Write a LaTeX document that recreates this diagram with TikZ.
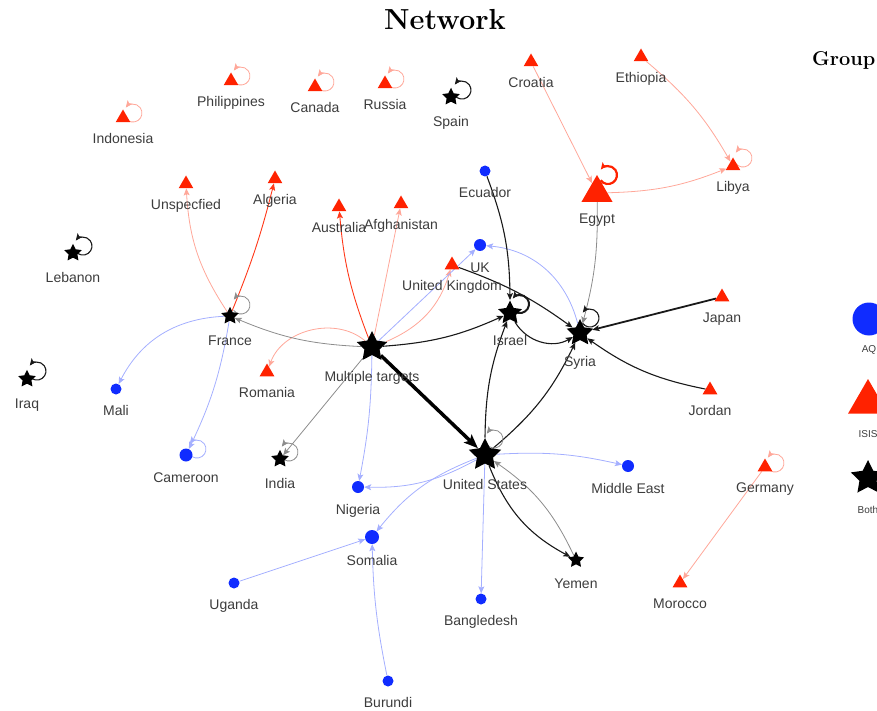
\documentclass[tikz,border=0pt]{standalone}
\usepackage{fontspec}
\usetikzlibrary{shapes.geometric,arrows.meta,backgrounds}
\newfontfamily\lblfont{Liberation Sans}
\definecolor{aqblue}{RGB}{16,44,255}
\definecolor{isisred}{RGB}{255,34,0}
\definecolor{lblgray}{RGB}{60,60,60}
\tikzset{
  aqdot/.style={circle,fill=aqblue,inner sep=0pt,minimum size=11pt},
  isistri/.style={regular polygon,regular polygon sides=3,fill=isisred,inner sep=0pt,minimum size=17pt},
  bothstar/.style={star,star points=5,star point ratio=2.0,fill=black,inner sep=0pt,minimum size=18.5pt},
  aq/.style={aqdot,label={[label distance=11pt]below:#1}},
  isis/.style={isistri,label={[label distance=11pt]below:#1}},
  both/.style={bothstar,label={[label distance=14pt]below:#1}},
  bigboth/.style={bothstar,label={[label distance=16pt]below:#1}},
  every label/.style={font=\lblfont\fontsize{14}{16}\selectfont,text=lblgray,inner sep=0pt,text height=10pt,text depth=3pt},
  keylbl/.style={font=\lblfont\fontsize{10}{12}\selectfont,text height=7.5pt,text depth=2pt},
  tip/.style={-{Stealth[length=7pt,width=6pt,inset=1.5pt]}},
  redln/.style={tip,draw=isisred!40,line width=0.8pt},
  reddk/.style={tip,draw=isisred!90,line width=0.9pt},
  blueln/.style={tip,draw=aqblue!38,line width=0.8pt},
  blackln/.style={tip,draw=black!90,line width=1.1pt},
  grayln/.style={tip,draw=black!45,line width=0.8pt},
  selfloop/.style={to path={([shift={(#1)},shift={(-7.4,-5.2)}]\tikztostart.center) arc[start angle=215,end angle=503,radius=9]}},
  selfloop/.default={10,5}
}

\begin{document}
\begin{tikzpicture}[x=1pt,y=1pt]
  \useasboundingbox (0,0) rectangle (877,-711);
  \clip (0,0) rectangle (877,-711);
  \node[inner sep=0pt,anchor=base,font=\bfseries\fontsize{29}{32}\selectfont] (title) at (445,-30) {Network};
  \node[inner sep=0pt,anchor=base west,font=\bfseries\fontsize{20}{24}\selectfont] (grouphead) at (812,-66) {Group};

  \node[isis=Indonesia] (indonesia) at (123,-118) {};
  \node[isis=Philippines] (philippines) at (231,-81) {};
  \node[isis=Canada] (canada) at (315,-87) {};
  \node[isis=Russia] (russia) at (385,-84) {};
  \node[both=Spain] (spain) at (451,-97) {};
  \node[isis=Croatia] (croatia) at (531,-62) {};
  \node[isis=Ethiopia] (ethiopia) at (641,-57) {};
  \node[isis=Egypt,minimum size=36pt] (egypt) at (597,-193) {};
  \node[isis=Libya] (libya) at (733,-166) {};
  \node[isis=Unspecfied] (unspec) at (186,-184) {};
  \node[isis=Algeria] (algeria) at (275,-179) {};
  \node[isis=Australia] (australia) at (339,-207) {};
  \node[isis=Afghanistan] (afghan) at (401,-204) {};
  \node[aq=Ecuador] (ecuador) at (485,-171) {};
  \node[aq=UK,minimum size=12pt] (uk) at (480,-245) {};
  \node[isis=United Kingdom] (unitedk) at (452,-265) {};
  \node[both=Lebanon] (lebanon) at (73,-253) {};
  \node[both=France] (france) at (230,-316) {};
  \node[bigboth=Multiple targets,minimum size=32pt] (multi) at (372,-347) {};
  \node[bigboth=Israel,minimum size=25pt,label distance=15pt] (israel) at (510,-313) {};
  \node[bigboth=Syria,minimum size=28pt] (syria) at (580,-333) {};
  \node[isis=Japan] (japan) at (722,-297) {};
  \node[isis=Jordan] (jordan) at (710,-390) {};
  \node[both=Iraq] (iraq) at (27,-379) {};
  \node[aq=Mali] (mali) at (116,-389) {};
  \node[isis=Romania] (romania) at (267,-372) {};
  \node[aq=Cameroon,minimum size=13pt] (cameroon) at (186,-455) {};
  \node[both=India] (india) at (280,-459) {};
  \node[bigboth=United States,minimum size=34pt] (us) at (485,-455) {};
  \node[aq=Nigeria,minimum size=12pt] (nigeria) at (358,-487) {};
  \node[aq=Middle East,minimum size=12pt] (mideast) at (628,-466) {};
  \node[isis=Germany] (germany) at (765,-467) {};
  \node[aq=Somalia,minimum size=14pt] (somalia) at (372,-537) {};
  \node[both=Yemen,minimum size=17pt] (yemen) at (576,-560) {};
  \node[aq=Uganda] (uganda) at (234,-583) {};
  \node[aq=Bangledesh] (bangla) at (481,-599) {};
  \node[isis=Morocco] (morocco) at (680,-583) {};
  \node[aq=Burundi] (burundi) at (388,-681) {};

  \node[aqdot,minimum size=33pt,label={[keylbl,label distance=9pt]below:AQ}] (keyaq) at (869,-319) {};
  \node[isistri,minimum size=46pt,label={[keylbl,label distance=16pt]below:ISIS}] (keyisis) at (868,-402) {};
  \node[bothstar,minimum size=36pt,label={[keylbl,label distance=19pt]below:Both}] (keyboth) at (868,-478) {};

  \begin{pgfonlayer}{background}
    \draw[redln] (croatia) -- (egypt);
    \draw[redln] (ethiopia) to[bend left=10] (libya);
    \draw[redln] (egypt) to[bend right=10] (libya);
    \draw[redln] (france) to[bend left=15] (unspec);
    \draw[reddk] (france) to[bend right=4] (algeria);
    \draw[reddk] (multi) to[bend left=8] (australia);
    \draw[redln] (multi) -- (afghan);
    \draw[redln] (multi) to[bend right=25] (unitedk);
    \draw[redln] (multi) to[bend right=55] (romania);
    \draw[redln] (germany) -- (morocco);

    \draw[blueln] (france) to[bend right=30] (mali);
    \draw[blueln] (france) to[bend left=8] (cameroon);
    \draw[blueln] (multi) -- (uk);
    \draw[blueln] (multi) to[bend left=5] (nigeria);
    \draw[blueln] (syria) to[bend right=35] (uk);
    \draw[blueln] (us) to[bend left=8] (mideast);
    \draw[blueln] (us) to[bend left=15] (nigeria);
    \draw[blueln] (us) to[bend right=15] (somalia);
    \draw[blueln] (us) -- (bangla);
    \draw[blueln] (uganda) -- (somalia);
    \draw[blueln] (burundi) to[bend left=5] (somalia);

    \draw[black,line width=3.5pt,-{Stealth[length=14pt,width=11pt,inset=3pt]}] (multi) -- (us);
    \draw[grayln] (multi) to[bend left=10] (france);
    \draw[blackln] (multi) to[bend right=10] (israel);
    \draw[grayln] (multi) -- (india);
    \draw[blackln] (ecuador) to[bend left=10] (israel);
    \draw[blackln] (unitedk) to[bend left=8] (syria);
    \draw[blackln] (israel) to[bend right=45] (syria);
    \draw[grayln] (egypt) to[bend left=8] (syria);
    \draw[blackln,line width=1.8pt] (japan) -- (syria);
    \draw[blackln] (jordan) to[bend left=12] (syria);
    \draw[blackln] (us) to[bend left=10] (israel);
    \draw[blackln] (us) to[bend right=12] (syria);
    \draw[blackln] (us) to[bend right=20] (yemen);
    \draw[grayln] (yemen) to[bend right=15] (us);

    \draw[redln] (indonesia) to[selfloop] (indonesia);
    \draw[redln] (philippines) to[selfloop] (philippines);
    \draw[redln] (canada) to[selfloop] (canada);
    \draw[redln] (russia) to[selfloop] (russia);
    \draw[redln] (libya) to[selfloop={10,8}] (libya);
    \draw[redln] (germany) to[selfloop={10,4}] (germany);
    \draw[redln,draw=isisred,line width=2.2pt] (egypt) to[selfloop={11,18}] (egypt);
    \draw[blueln] (cameroon) to[selfloop={11,6}] (cameroon);
    \draw[blackln] (spain) to[selfloop={11,7}] (spain);
    \draw[blackln] (lebanon) to[selfloop={10,7}] (lebanon);
    \draw[blackln] (iraq) to[selfloop={10,8}] (iraq);
    \draw[blackln,line width=2pt] (israel) to[selfloop={10,9}] (israel);
    \draw[blackln] (syria) to[selfloop={10,15}] (syria);
    \draw[grayln] (france) to[selfloop={11,11}] (france);
    \draw[grayln] (india) to[selfloop={9,7}] (india);
    \draw[grayln] (us) to[selfloop={9,16}] (us);
  \end{pgfonlayer}
\end{tikzpicture}
\end{document}
